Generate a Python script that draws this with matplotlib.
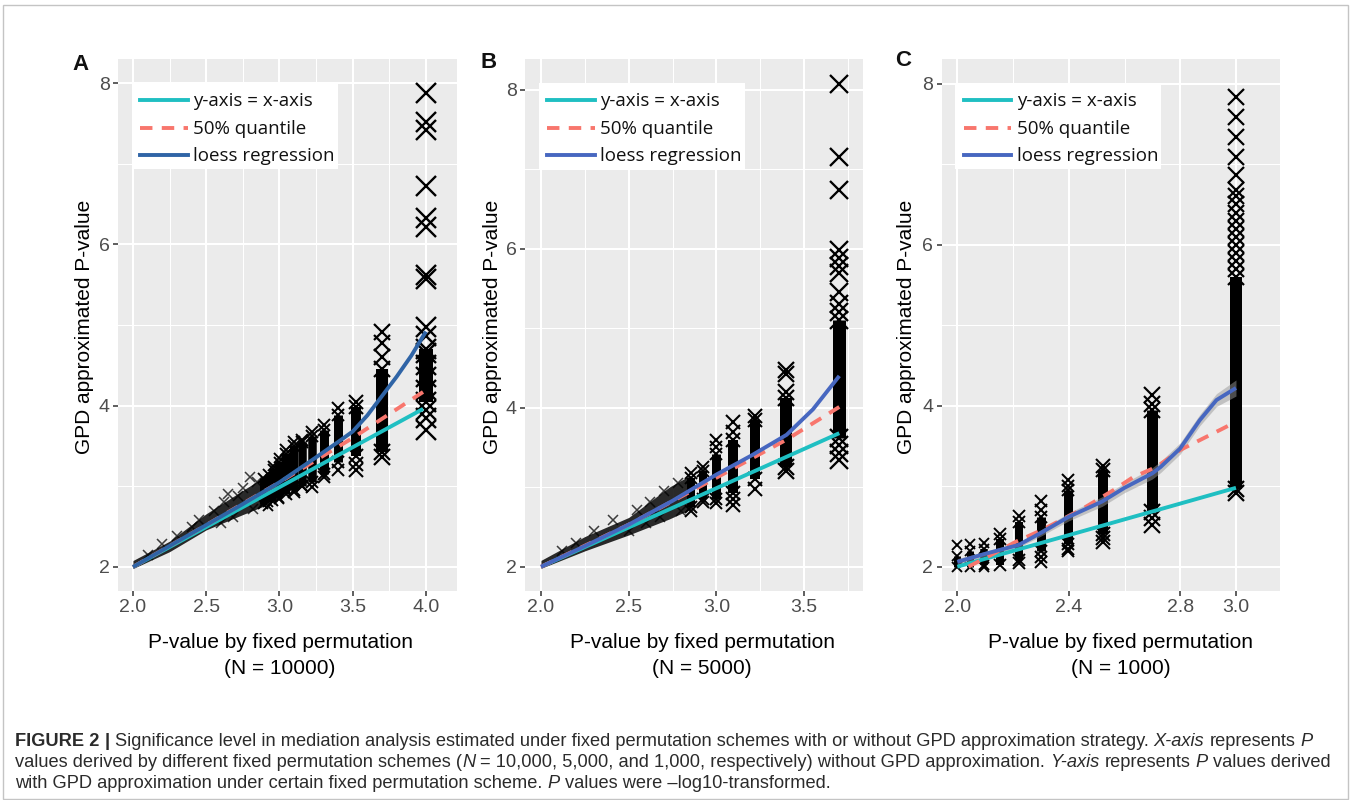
import matplotlib
matplotlib.use("Agg")
import matplotlib.pyplot as plt
from matplotlib.patches import Rectangle
from matplotlib.lines import Line2D

W, H = 1352, 800

CYAN = "#1fbfc2"
RED = "#f8766d"

# ---------- panel A  (N = 10000) ----------
a_col_x = [2.886, 2.921, 2.959, 3.0, 3.046, 3.097, 3.155, 3.222, 3.301, 3.398, 3.523, 3.699, 4.0]
a_col_lo = [2.78, 2.8, 2.82, 2.86, 2.9, 2.95, 3.0, 3.05, 3.15, 3.3, 3.38, 3.42, 4.05]
a_col_hi = [3.1, 3.15, 3.22, 3.3, 3.4, 3.5, 3.55, 3.62, 3.7, 3.88, 3.98, 4.45, 4.7]
a_col_ms = [7, 7, 7.5, 7.5, 8, 8, 8.5, 8.5, 9, 9, 10, 12, 14]
a_col_out = [
    [],
    [2.75],
    [3.25],
    [2.84, 3.35],
    [3.45],
    [2.93, 3.55],
    [3.0, 3.58],
    [2.99, 3.68],
    [3.12, 3.76],
    [3.2, 3.97],
    [3.2, 3.28, 4.05],
    [3.36, 4.6, 4.78, 4.92],
    [3.7, 3.85, 3.95, 4.2, 4.35, 4.5, 4.65, 4.86, 4.98, 5.57, 5.62, 6.22, 6.33, 6.72, 7.42, 7.52, 7.88],
]
a_band_x = [2.0, 2.25, 2.5, 2.75, 2.9]
a_band_lo = [1.98, 2.19, 2.46, 2.65, 2.76]
a_band_hi = [2.08, 2.32, 2.66, 2.95, 3.12]
a_pts_x = [2.3, 2.45, 2.55, 2.62, 2.68, 2.75, 2.8, 2.85, 2.9, 2.72, 2.6, 2.4, 2.2, 2.1, 2.65, 2.82]
a_pts_y = [2.38, 2.58, 2.7, 2.8, 2.62, 2.98, 3.12, 3.05, 2.82, 2.88, 2.55, 2.5, 2.28, 2.15, 2.9, 2.72]
a_eq_x = [2.0, 3.98]
a_eq_y = [2.0, 3.96]
a_q50_x = [2.0, 2.5, 3.0, 3.5, 3.98]
a_q50_y = [2.0, 2.52, 3.05, 3.6, 4.17]
a_lo_x = [2.0, 2.25, 2.5, 2.75, 3.0, 3.25, 3.4, 3.5, 3.6, 3.7, 3.8, 3.9, 4.0]
a_lo_y = [2.0, 2.26, 2.52, 2.78, 3.05, 3.36, 3.55, 3.68, 3.88, 4.12, 4.36, 4.62, 4.92]

# ---------- panel B  (N = 5000) ----------
b_col_x = [2.854, 2.921, 3.0, 3.097, 3.222, 3.398, 3.699]
b_col_lo = [2.75, 2.85, 2.85, 2.93, 3.1, 3.25, 3.62]
b_col_hi = [3.12, 3.2, 3.42, 3.6, 3.85, 4.12, 5.1]
b_col_ms = [8, 8, 9, 10, 10, 12, 13]
b_col_out = [
    [2.7, 3.18],
    [2.82, 3.25],
    [2.8, 3.5, 3.59],
    [2.78, 2.85, 3.7, 3.82],
    [2.98, 3.89],
    [3.2, 4.2, 4.42, 4.47],
    [3.34, 3.43, 3.53, 5.2, 5.3, 5.45, 5.7, 5.78, 5.88, 5.98, 6.74, 7.15, 8.07],
]
b_band_x = [2.0, 2.25, 2.5, 2.73, 2.85]
b_band_lo = [1.98, 2.2, 2.4, 2.6, 2.72]
b_band_hi = [2.08, 2.38, 2.62, 3.0, 3.15]
b_pts_x = [2.41, 2.3, 2.55, 2.62, 2.7, 2.78, 2.68, 2.5, 2.2, 2.12, 2.6, 2.8]
b_pts_y = [2.59, 2.45, 2.72, 2.82, 2.95, 3.05, 2.62, 2.45, 2.3, 2.2, 2.55, 2.7]
b_eq_x = [2.02, 3.7]
b_eq_y = [2.02, 3.68]
b_q50_x = [2.0, 2.5, 3.0, 3.4, 3.7]
b_q50_y = [2.0, 2.53, 3.12, 3.6, 4.01]
b_lo_x = [2.0, 2.25, 2.5, 2.75, 3.0, 3.2, 3.4, 3.55, 3.7]
b_lo_y = [2.0, 2.26, 2.53, 2.83, 3.16, 3.4, 3.66, 3.98, 4.40]

# ---------- panel C  (N = 1000) ----------
c_col_x = [2.0, 2.046, 2.097, 2.155, 2.222, 2.301, 2.398, 2.523, 2.699, 3.0]
c_col_lo = [2.0, 2.0, 2.02, 2.02, 2.08, 2.2, 2.28, 2.4, 2.68, 2.97]
c_col_hi = [2.13, 2.2, 2.22, 2.35, 2.55, 2.62, 2.95, 3.2, 3.95, 5.6]
c_col_ms = [7, 7, 7.5, 8, 8, 9, 9, 10, 11, 12]
c_col_out = [
    [2.27],
    [2.28],
    [2.0, 2.3],
    [2.41],
    [2.05, 2.63],
    [2.06, 2.12, 2.7, 2.81],
    [2.19, 2.22, 3.0, 3.08],
    [2.31, 2.36, 3.25],
    [2.52, 2.6, 4.02, 4.13],
    [2.91, 5.7, 5.8, 5.9, 6.0, 6.1, 6.2, 6.3, 6.4, 6.5, 6.6,
     6.68, 6.87, 7.09, 7.34, 7.59, 7.84],
]
c_eq_x = [2.0, 3.0]
c_eq_y = [2.0, 2.98]
c_q50_x = [2.04, 2.135, 2.21, 2.3, 2.44, 2.56, 2.63, 2.715, 2.8, 2.955, 3.0]
c_q50_y = [2.0, 2.17, 2.31, 2.45, 2.70, 2.95, 3.11, 3.24, 3.45, 3.72, 3.8]
c_lo_x = [2.0, 2.1, 2.22, 2.3, 2.4, 2.52, 2.6, 2.7, 2.73, 2.8, 2.87, 2.93, 3.0]
c_lo_y = [2.06, 2.16, 2.27, 2.42, 2.62, 2.81, 2.98, 3.16, 3.24, 3.47, 3.82, 4.07, 4.22]
c_lo_se = [0.04, 0.03, 0.03, 0.04, 0.05, 0.06, 0.06, 0.07, 0.07, 0.07, 0.07, 0.08, 0.1]

legend_labels = ["y-axis = x-axis", "50% quantile", "loess regression"]
x_titles = ["(N = 10000)", "(N = 5000)", "(N = 1000)"]

plt.rcParams["font.family"] = ["Liberation Sans", "DejaVu Sans"]
fig = plt.figure(figsize=(W / 100, H / 100), dpi=100)


def fx(x):
    return x / W


def fy(y):
    return 1 - y / H


def make_axes(l, t, r, b):
    return fig.add_axes([l / W, 1 - b / H, (r - l) / W, (b - t) / H])


def style_axes(ax, xlim, ylim, xmaj, xmin):
    ax.set_facecolor("#ebebeb")
    ax.set_xlim(*xlim)
    ax.set_ylim(*ylim)
    ax.set_xticks(xmaj)
    ax.set_xticks(xmin, minor=True)
    ax.set_xticklabels([f"{v:.1f}" for v in xmaj])
    ax.set_yticks([2, 4, 6, 8])
    ax.set_yticks([3, 5, 7], minor=True)
    ax.set_yticklabels(["2", "4", "6", "8"])
    ax.grid(which="major", color="white", lw=1.5)
    ax.grid(which="minor", color="white", lw=0.75)
    ax.set_axisbelow(True)
    for s in ax.spines.values():
        s.set_visible(False)
    ax.tick_params(which="major", length=3.6, width=1.1, color="#333333",
                   labelsize=14, labelcolor="#4d4d4d", pad=2.5)
    ax.tick_params(which="minor", length=0)


def draw_points(ax, col_x, col_lo, col_hi, col_ms, col_out,
                band_x=None, band_lo=None, band_hi=None, pts_x=None, pts_y=None):
    if band_x is not None:
        ax.fill_between(band_x, band_lo, band_hi, color="#141414", alpha=0.9,
                        lw=0, zorder=2)
        ax.plot(pts_x, pts_y, ls="none", marker="x", ms=7, mew=1.1,
                color="black", alpha=0.75, zorder=2)
    for x, lo, hi, ms, ys in zip(col_x, col_lo, col_hi, col_ms, col_out):
        ax.vlines(x, lo, hi, colors="black", lw=ms * 0.72, zorder=2)
        yy = [lo, hi] + ys
        ax.plot([x] * len(yy), yy, ls="none", marker="x", ms=ms,
                mew=1.0 + ms * 0.05, color="black", zorder=2)


def draw_lines(ax, eq, q50, lo, blue, se=None):
    if se is not None:
        ax.fill_between(lo[0], [a - b for a, b in zip(lo[1], se)],
                        [a + b for a, b in zip(lo[1], se)],
                        color="#999999", alpha=0.5, lw=0, zorder=3)
    ax.plot(eq[0], eq[1], color=CYAN, lw=2.8, zorder=4, solid_capstyle="butt")
    ax.plot(q50[0], q50[1], color=RED, lw=2.8, dashes=(3.2, 2.4), zorder=4)
    ax.plot(lo[0], lo[1], color=blue, lw=2.8, zorder=5, solid_capstyle="butt")


def draw_legend(l, blue):
    fig.add_artist(Rectangle((fx(l + 13.7), fy(169)), 206 / W, 86 / H,
                             transform=fig.transFigure, facecolor="white",
                             edgecolor="none", zorder=10))
    styles = [dict(color=CYAN), dict(color=RED, dashes=(3.2, 2.4)), dict(color=blue)]
    for row_y, lab, st in zip([100, 128, 155], legend_labels, styles):
        fig.add_artist(Line2D([fx(l + 22), fx(l + 69.7)], [fy(row_y), fy(row_y)],
                              transform=fig.transFigure, lw=2.8, zorder=11, **st))
        fig.text(fx(l + 75), fy(row_y + 1), lab, fontsize=13.5, family="Open Sans",
                 va="center", ha="left", color="#111111", zorder=12)


panels = [
    dict(box=(118, 59, 456.7, 591), xlim=(1.898, 4.21), ylim=(1.702, 8.30),
         xmaj=[2.0, 2.5, 3.0, 3.5, 4.0], xmin=[2.25, 2.75, 3.25, 3.75],
         blue="#2f64a6", letter="A", letter_xy=(72, 64), ylab_x=84, xlab_x=280),
    dict(box=(525, 59, 863, 591), xlim=(1.909, 3.835), ylim=(1.695, 8.386),
         xmaj=[2.0, 2.5, 3.0, 3.5], xmin=[2.25, 2.75, 3.25, 3.75],
         blue="#4767c0", letter="B", letter_xy=(481, 63), ylab_x=493, xlab_x=702),
    dict(box=(941.7, 59, 1280, 591), xlim=(1.944, 3.158), ylim=(1.698, 8.307),
         xmaj=[2.0, 2.4, 2.8, 3.0], xmin=[2.2, 2.6],
         blue="#4767c0", letter="C", letter_xy=(895, 61), ylab_x=906, xlab_x=1121),
]

axes = []
for p in panels:
    ax = make_axes(*p["box"])
    style_axes(ax, p["xlim"], p["ylim"], p["xmaj"], p["xmin"])
    axes.append(ax)

draw_points(axes[0], a_col_x, a_col_lo, a_col_hi, a_col_ms, a_col_out,
            a_band_x, a_band_lo, a_band_hi, a_pts_x, a_pts_y)
draw_lines(axes[0], (a_eq_x, a_eq_y), (a_q50_x, a_q50_y), (a_lo_x, a_lo_y), panels[0]["blue"])

draw_points(axes[1], b_col_x, b_col_lo, b_col_hi, b_col_ms, b_col_out,
            b_band_x, b_band_lo, b_band_hi, b_pts_x, b_pts_y)
draw_lines(axes[1], (b_eq_x, b_eq_y), (b_q50_x, b_q50_y), (b_lo_x, b_lo_y), panels[1]["blue"])

draw_points(axes[2], c_col_x, c_col_lo, c_col_hi, c_col_ms, c_col_out)
draw_lines(axes[2], (c_eq_x, c_eq_y), (c_q50_x, c_q50_y), (c_lo_x, c_lo_y),
           panels[2]["blue"], se=c_lo_se)

for p, xt in zip(panels, x_titles):
    l, t, r, b = p["box"]
    draw_legend(l, p["blue"])
    fig.text(fx(p["letter_xy"][0]), fy(p["letter_xy"][1]), p["letter"], fontsize=16,
             fontweight="bold", ha="left", va="center", color="#111111")
    fig.text(fx(p["ylab_x"]), fy(327), "GPD approximated P-value", rotation=90,
             fontsize=15, ha="center", va="center", color="black")
    fig.text(fx(p["xlab_x"]), fy(643), "P-value by fixed permutation",
             fontsize=15, ha="center", va="center", color="black")
    fig.text(fx(p["xlab_x"]), fy(668), xt, fontsize=15, ha="center", va="center",
             color="black")

# outer frame of the figure
fig.add_artist(Rectangle((fx(3), fy(799)), 1345 / W, 794 / H, transform=fig.transFigure,
                         facecolor="none", edgecolor="#c4c4c4", lw=1.0, zorder=0))

# ---------- caption with mixed styles ----------
renderer = fig.canvas.get_renderer()
cap_lines = [
    [("FIGURE 2", "b", True), ("|", "b", True),
     ("Significance level in mediation analysis estimated under fixed permutation schemes "
      "with or without GPD approximation strategy.", "r", True),
     ("X-axis", "i", True), ("represents", "r", True), ("P", "i", False)],
    [("values derived by different fixed permutation schemes (", "r", False), ("N", "i", True),
     ("= 10,000, 5,000, and 1,000, respectively) without GPD approximation.", "r", True),
     ("Y-axis", "i", True), ("represents", "r", True), ("P", "i", True),
     ("values derived", "r", False)],
    [("with GPD approximation under certain fixed permutation scheme.", "r", True),
     ("P", "i", True), ("values were \u2013log10-transformed.", "r", False)],
]


def run_props(style):
    return dict(fontweight="bold" if style == "b" else "normal",
                fontstyle="italic" if style == "i" else "normal")


def space_width(size):
    probe = fig.text(0, 0, "a a", fontsize=size)
    w2 = probe.get_window_extent(renderer).width
    probe.set_text("aa")
    w = w2 - probe.get_window_extent(renderer).width
    probe.remove()
    return w


def put_line(runs, baseline, size, keep=True):
    sw = space_width(size)
    x = 15
    made = []
    for txt, style, sp in runs:
        t = fig.text(fx(x), fy(baseline), txt, fontsize=size, va="baseline",
                     ha="left", color="#2b2b2b", **run_props(style))
        made.append(t)
        x += t.get_window_extent(renderer).width + (sw if sp else 0)
    if not keep:
        for t in made:
            t.remove()
    return x - 15


# scale the caption so that the first line spans the same width as the reference
trial = 12.0
w1 = put_line(cap_lines[0], 746, trial, keep=False)
cap_size = trial * 1303 / w1

for baseline, runs in zip([746, 767, 788], cap_lines):
    put_line(runs, baseline, cap_size)

fig.savefig("out.png", dpi=100)
